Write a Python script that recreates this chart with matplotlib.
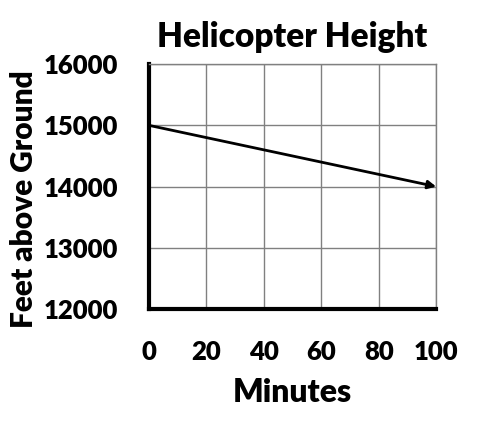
import matplotlib
matplotlib.use("Agg")
import matplotlib.pyplot as plt

# data
minutes = [0, 100]
height = [15000, 14000]
x_ticks = [0, 20, 40, 60, 80, 100]
y_ticks = [12000, 13000, 14000, 15000, 16000]

plt.rcParams['font.family'] = ['Lato', 'DejaVu Sans']
plt.rcParams['font.weight'] = 'heavy'

fig = plt.figure(figsize=(4.82, 4.30), dpi=100)
ax = fig.add_axes([0.309, 0.281, 0.596, 0.570])

ax.set_xlim(0, 100)
ax.set_ylim(12000, 16000)
ax.set_xticks(x_ticks)
ax.set_yticks(y_ticks)
ax.grid(True, color='#808080', linewidth=1.0)
ax.set_axisbelow(True)

ax.annotate('', xy=(minutes[1], height[1]), xytext=(minutes[0], height[0]),
            arrowprops=dict(arrowstyle='-|>', color='black', lw=2,
                            mutation_scale=12, shrinkA=0, shrinkB=0))

for side in ['top', 'right']:
    ax.spines[side].set_color('#808080')
    ax.spines[side].set_linewidth(1.0)
for side in ['left', 'bottom']:
    ax.spines[side].set_color('black')
    ax.spines[side].set_linewidth(3)

ax.tick_params(length=0, labelsize=18.5, pad=22)
for lbl in ax.get_xticklabels() + ax.get_yticklabels():
    lbl.set_fontweight('heavy')

ax.set_title('Helicopter Height', fontsize=24, fontweight='heavy', pad=12)
ax.set_xlabel('Minutes', fontsize=23, fontweight='heavy', labelpad=10)
ax.set_ylabel('Feet above Ground', fontsize=21.5, fontweight='heavy')
ax.yaxis.set_label_coords(-0.386, 0.45)

fig.savefig('out.png', dpi=100)
